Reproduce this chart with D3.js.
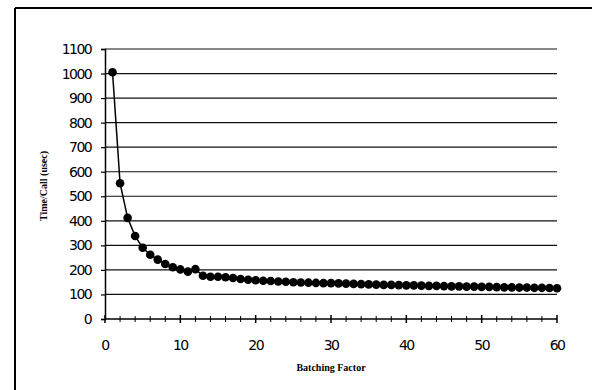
<!DOCTYPE html>
<html>
<head>
<meta charset="utf-8">
<script src="https://cdn.jsdelivr.net/npm/d3@7"></script>
<style>
  body { margin: 0; background: #fff; }
  svg { display: block; }
</style>
</head>
<body>
<div id="chart"></div>
<script>
// batching factor 1..60
var batching = d3.range(1, 61);
// time per call in usec
var timePerCall = [1005, 553, 412, 338, 290, 262, 242, 224, 211, 202,
                   193, 203, 176, 172, 172, 170, 167, 163, 160, 158,
                   156, 155, 153, 152, 150, 149, 148, 147, 146, 146,
                   145, 144, 143, 142, 141, 140, 139, 139, 138, 137,
                   137, 136, 135, 135, 134, 133, 133, 132, 132, 131,
                   131, 130, 129, 129, 128, 128, 127, 127, 126, 125];
var yTicks = d3.range(0, 1101, 100);
var xTicks = [0, 10, 20, 30, 40, 50, 60];
var xMinor = d3.range(0, 61, 2);

var W = 592, H = 390;
var svg = d3.select("#chart").append("svg")
    .attr("width", W)
    .attr("height", H);

// outer frame (left + top only visible)
svg.append("line").attr("x1", 15).attr("x2", 15).attr("y1", 8).attr("y2", H)
    .attr("stroke", "#000").attr("stroke-width", 2);
svg.append("line").attr("x1", 15).attr("x2", W).attr("y1", 8).attr("y2", 8)
    .attr("stroke", "#000").attr("stroke-width", 2);

var x = d3.scaleLinear().domain([0, 60]).range([105, 557]);
var y = d3.scaleLinear().domain([0, 1100]).range([319, 49]);

// gridlines
svg.append("g").selectAll("line")
    .data(yTicks.filter(d => d > 0))
  .enter().append("line")
    .attr("x1", x(0)).attr("x2", x(60))
    .attr("y1", d => y(d)).attr("y2", d => y(d))
    .attr("stroke", "#111").attr("stroke-width", 1.2);

// y axis
var yAxis = svg.append("g")
    .attr("transform", "translate(" + x(0) + ",0)")
    .call(d3.axisLeft(y).tickValues(yTicks).tickFormat(d3.format("d")).tickSize(4).tickPadding(10));
yAxis.select(".domain").attr("stroke", "#000").attr("stroke-width", 1.5);
yAxis.selectAll("line").attr("stroke", "#000").attr("stroke-width", 1.2);
yAxis.selectAll("text")
    .attr("font-family", "'DejaVu Sans', sans-serif")
    .attr("font-size", 14)
    .attr("letter-spacing", -1.6)
    .attr("fill", "#000");

// x axis line with crossing ticks
var xg = svg.append("g");
xg.append("line")
    .attr("x1", x(0)).attr("x2", x(60))
    .attr("y1", y(0)).attr("y2", y(0))
    .attr("stroke", "#000").attr("stroke-width", 1.5);
xg.selectAll(".minor")
    .data(xMinor)
  .enter().append("line")
    .attr("class", "minor")
    .attr("x1", d => x(d)).attr("x2", d => x(d))
    .attr("y1", d => y(0) - (d % 10 === 0 ? 4 : 3))
    .attr("y2", d => y(0) + (d % 10 === 0 ? 4 : 3))
    .attr("stroke", "#000").attr("stroke-width", d => d % 10 === 0 ? 1.5 : 1);
xg.selectAll("text")
    .data(xTicks)
  .enter().append("text")
    .attr("x", d => x(d))
    .attr("y", 350)
    .attr("text-anchor", "middle")
    .attr("font-family", "'DejaVu Sans', sans-serif")
    .attr("font-size", 14)
    .attr("letter-spacing", -1.6)
    .text(d => d);

// axis titles
svg.append("text")
    .attr("x", 331).attr("y", 371)
    .attr("text-anchor", "middle")
    .attr("font-family", "'Liberation Serif', serif")
    .attr("font-weight", "bold")
    .attr("font-size", 10)
    .text("Batching Factor");
svg.append("text")
    .attr("transform", "translate(47,186) rotate(-90)")
    .attr("text-anchor", "middle")
    .attr("font-family", "'Liberation Serif', serif")
    .attr("font-weight", "bold")
    .attr("font-size", 10)
    .text("Time/Call (usec)");

// series
var line = d3.line()
    .x((d, i) => x(batching[i]))
    .y(d => y(d));
svg.append("path")
    .datum(timePerCall)
    .attr("d", line)
    .attr("fill", "none")
    .attr("stroke", "#000")
    .attr("stroke-width", 1.5);
svg.append("g").selectAll("circle")
    .data(timePerCall)
  .enter().append("circle")
    .attr("cx", (d, i) => x(batching[i]))
    .attr("cy", d => y(d))
    .attr("r", 4.3)
    .attr("fill", "#000");
</script>
</body>
</html>
